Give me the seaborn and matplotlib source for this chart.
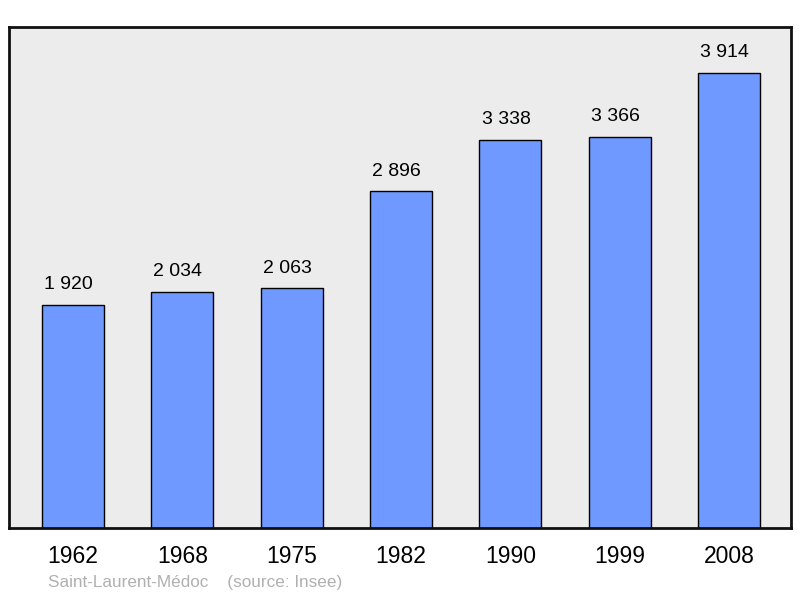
import matplotlib
matplotlib.use('Agg')
import matplotlib.pyplot as plt
import seaborn as sns
import pandas as pd

# données de population
years = ['1962', '1968', '1975', '1982', '1990', '1999', '2008']
population = [1920, 2034, 2063, 2896, 3338, 3366, 3914]
labels = ['1 920', '2 034', '2 063', '2 896', '3 338', '3 366', '3 914']

sns.set_style('white')
plt.rcParams['font.family'] = ['Liberation Sans', 'DejaVu Sans']

df = pd.DataFrame({'year': years, 'pop': population})

fig = plt.figure(figsize=(8, 5.98), dpi=100)
ax = fig.add_axes([9 / 800, 70 / 598, 782 / 800, 501 / 598])
ax.set_facecolor('#ececec')

sns.barplot(data=df, x='year', y='pop', color='#6f99ff', saturation=1,
            width=0.567, edgecolor='black', linewidth=1, ax=ax)

# étiquettes au-dessus des barres (légèrement décalées à gauche comme l'original)
for i, (v, lab) in enumerate(zip(population, labels)):
    ax.text(i - 0.04, v + 100, lab, ha='center', va='bottom', fontsize=14, color='black')

ax.set_xlim(-0.585, 6.567)
ax.set_ylim(0, 4309)
ax.set_yticks([])
ax.set_xlabel('')
ax.set_ylabel('')
ax.tick_params(axis='x', length=0, labelsize=16.5, pad=12, labelcolor='black')
for s in ax.spines.values():
    s.set_visible(True)
    s.set_linewidth(2)
    s.set_color('#111111')

fig.text(48 / 800, 1 - 583 / 598, 'Saint-Laurent-Médoc    (source: Insee)',
         fontsize=12.3, color='#b0b0b0', va='center', ha='left')

fig.savefig('out.png', dpi=100)
